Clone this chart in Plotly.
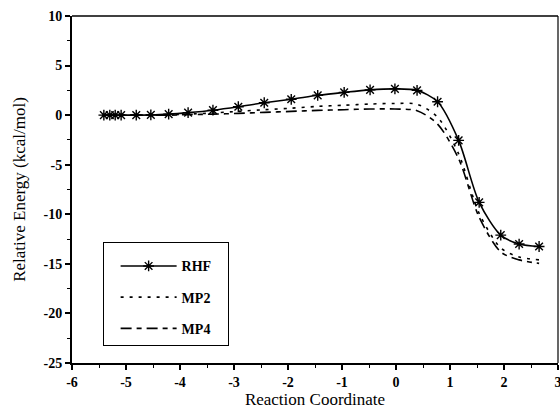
import plotly.graph_objects as go

# Reaction coordinate points
x_points = [-5.41, -5.30, -5.20, -5.09, -4.81, -4.54, -4.21, -3.85, -3.39, -2.92,
            -2.44, -1.94, -1.45, -0.96, -0.48, -0.02, 0.39, 0.77, 1.16, 1.54,
            1.94, 2.28, 2.65]
rhf = [0.0, 0.0, 0.0, 0.0, 0.0, 0.02, 0.1, 0.25, 0.5, 0.85,
       1.25, 1.6, 2.0, 2.3, 2.55, 2.65, 2.5, 1.35, -2.55, -8.8,
       -12.1, -13.0, -13.25]
mp2 = [0.0, 0.0, 0.0, 0.0, 0.0, 0.0, 0.03, 0.1, 0.22, 0.38,
       0.55, 0.7, 0.88, 1.0, 1.12, 1.18, 1.1, -0.2, -3.9, -9.9,
       -13.4, -14.3, -14.6]
mp4 = [0.0, 0.0, 0.0, 0.0, 0.0, 0.0, 0.0, 0.05, 0.1, 0.18,
       0.28, 0.38, 0.48, 0.55, 0.62, 0.62, 0.45, -0.9, -4.4, -10.3,
       -13.8, -14.6, -14.95]

x_ticks = [-6, -5, -4, -3, -2, -1, 0, 1, 2, 3]
x_labels = ["-6", "-5", "-4", "-3", "-2", "-1", "0", "1", "2", "3"]
y_ticks = [10, 5, 0, -5, -10, -15, -20, -25]
y_labels = ["10", "5", "0", "-5", "-10", "-15", "-20", "-25"]

FONT = "Liberation Serif"
PAD = "\u00a0\u00a0\u00a0"

fig = go.Figure()
fig.add_trace(go.Scatter(
    x=x_points, y=rhf, name="<b>RHF</b>" + PAD, mode="lines+markers",
    line=dict(color="black", width=1.6, shape="spline", smoothing=0.8),
    marker=dict(symbol="asterisk-open", size=9, line=dict(color="black", width=1.4)),
    legendgroup="a"))
fig.add_trace(go.Scatter(
    x=x_points, y=mp2, name="<b>MP2</b>" + PAD, mode="lines",
    line=dict(color="black", width=1.6, shape="spline", smoothing=0.8, dash="3px,6px"),
    legendgroup="b"))
fig.add_trace(go.Scatter(
    x=x_points, y=mp4, name="<b>MP4</b>" + PAD, mode="lines",
    line=dict(color="black", width=1.6, shape="spline", smoothing=0.8, dash="11px,5px,5px,5px"),
    legendgroup="c"))

fig.update_layout(
    width=560, height=410,
    margin=dict(l=72, r=2, t=16, b=47),
    paper_bgcolor="white", plot_bgcolor="white",
    font=dict(family=FONT, color="black", size=14),
    showlegend=True,
    legend=dict(x=0.063, y=0.35, xanchor="left", yanchor="top",
                bordercolor="black", borderwidth=1, bgcolor="white",
                font=dict(family=FONT, size=14, color="black"),
                title=dict(text="\u00a0", font=dict(size=6)),
                traceorder="grouped", tracegroupgap=10, itemwidth=56,
                indentation=12),
    xaxis=dict(range=[-6, 3], tickvals=x_ticks, ticktext=x_labels, automargin=False,
               ticklabeloverflow="allow",
               ticks="outside", ticklen=5, tickwidth=1.5, tickcolor="black",
               minor=dict(dtick=0.5, ticks="outside", ticklen=3, tickwidth=1.2, tickcolor="black"),
               showline=True, linecolor="black", linewidth=2, showgrid=False, zeroline=False,
               tickfont=dict(family=FONT, size=14, weight="bold"),
               title=dict(text="Reaction Coordinate", font=dict(family=FONT, size=17), standoff=3)),
    yaxis=dict(range=[-25, 10], tickvals=y_ticks, ticktext=y_labels, automargin=False,
               ticklabeloverflow="allow",
               ticks="outside", ticklen=5, tickwidth=1.5, tickcolor="black",
               minor=dict(dtick=2.5, ticks="outside", ticklen=3, tickwidth=1.2, tickcolor="black"),
               showline=True, linecolor="black", linewidth=2, showgrid=False, zeroline=False,
               tickfont=dict(family=FONT, size=14, weight="bold"),
               title=dict(text="Relative Energy (kcal/mol)", font=dict(family=FONT, size=17), standoff=14)),
    shapes=[
        dict(type="line", xref="paper", yref="paper", x0=0, x1=1, y0=1, y1=1,
             line=dict(color="black", width=1.5)),
        dict(type="line", xref="paper", yref="paper", x0=1, x1=1, y0=0, y1=1,
             line=dict(color="black", width=1.2)),
    ],
)

fig.write_html("out.html", config={"displayModeBar": False},
               post_script="document.body.style.margin='0px';document.body.style.overflow='hidden';")
